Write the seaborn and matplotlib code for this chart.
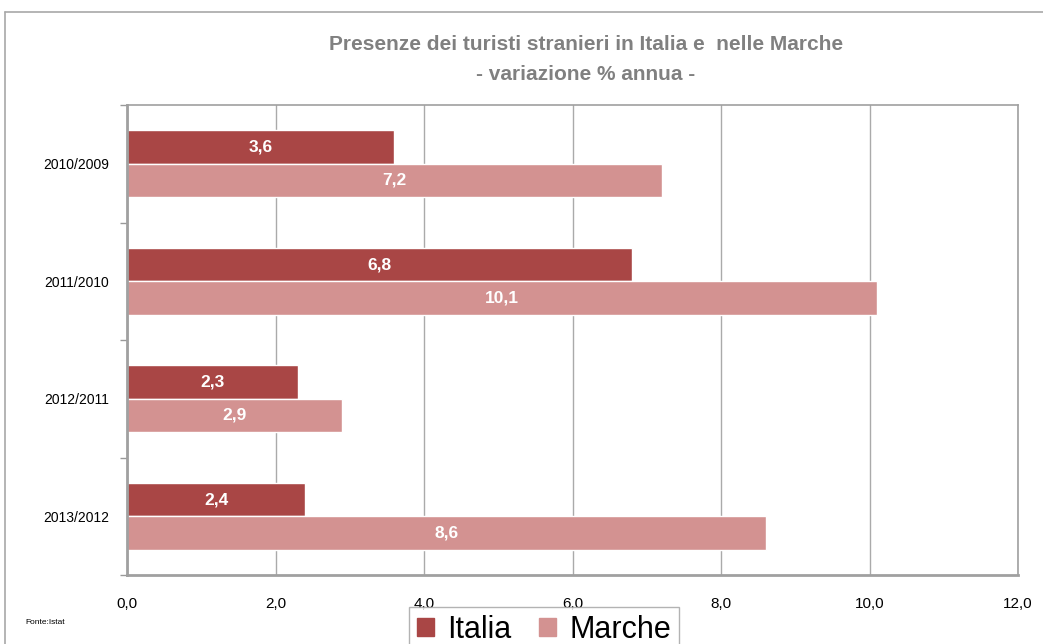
import matplotlib
matplotlib.use("Agg")
import matplotlib.pyplot as plt
import matplotlib.patches as mpatches
import seaborn as sns
import pandas as pd
from matplotlib import font_manager

periods = ["2010/2009", "2011/2010", "2012/2011", "2013/2012"]
italia = [3.6, 6.8, 2.3, 2.4]
marche = [7.2, 10.1, 2.9, 8.6]
series = ["Italia", "Marche"]
xticks = [0, 2, 4, 6, 8, 10, 12]

c_italia = "#A94645"
c_marche = "#D39291"

df = pd.DataFrame({
    "periodo": periods * 2,
    "valore": italia + marche,
    "serie": ["Italia"] * len(periods) + ["Marche"] * len(periods),
})

sns.set_theme(style="white")
avail = {f.name for f in font_manager.fontManager.ttflist}
narrow = "Liberation Sans"
for cand in ["Liberation Sans Narrow", "DejaVu Sans Condensed"]:
    if cand in avail:
        narrow = cand
        break
NF = [narrow, "DejaVu Sans"]
plt.rcParams["font.family"] = ["Liberation Sans", "DejaVu Sans"]

fig = plt.figure(figsize=(10.43, 6.44), dpi=100)
ax = fig.add_axes([127 / 1043, 69 / 644, 891 / 1043, 470 / 644])

sns.barplot(data=df, y="periodo", x="valore", hue="serie", orient="h",
            palette=[c_italia, c_marche], width=0.57, ax=ax, legend=False,
            saturation=1, order=periods, hue_order=series)

for cont in ax.containers:
    labels = [f"{b.get_width():.1f}".replace(".", ",") for b in cont]
    ax.bar_label(cont, labels=labels, label_type="center", color="white",
                 fontsize=12.5, fontweight="bold", family=NF)

ax.set_xlim(0, 12)
ax.set_ylim(3.5, -0.5)
ax.set_xticks(xticks)
ax.set_xticklabels([f"{v:.1f}".replace(".", ",") for v in xticks],
                   family=NF, fontsize=11, color="black")
ax.set_yticks(range(len(periods)))
ax.set_yticklabels(periods, fontsize=10, color="black")
ax.set_yticks([-0.5, 0.5, 1.5, 2.5, 3.5], minor=True)
ax.tick_params(axis="y", which="major", length=0, pad=13)
ax.tick_params(axis="y", which="minor", length=5, color="#999999", width=1, left=True)
ax.tick_params(axis="x", which="major", length=0, pad=16)
ax.set_xlabel("")
ax.set_ylabel("")
ax.grid(axis="x", color="#AAAAAA", linewidth=1)
ax.set_axisbelow(True)
for name, sp in ax.spines.items():
    sp.set_color("#A0A0A0")
    sp.set_linewidth(1.2)
ax.spines["left"].set_linewidth(2)
ax.spines["bottom"].set_linewidth(2)

fig.text(586 / 1043, 1 - 44 / 644, "Presenze dei turisti stranieri in Italia e  nelle Marche",
         ha="center", va="center", fontsize=15, fontweight="bold", color="#808080",
         family=NF)
fig.text(586 / 1043, 1 - 75 / 644, "- variazione % annua -",
         ha="center", va="center", fontsize=15, fontweight="bold", color="#808080",
         family=NF)

fig.text(25 / 1043, 1 - 622 / 644, "Fonte:Istat", ha="left", va="center",
         fontsize=6, color="black", family=NF)

# outer chart border
fig.add_artist(plt.Line2D([5 / 1043, 1.0], [1 - 12 / 644, 1 - 12 / 644],
                          transform=fig.transFigure, color="#A8A8A8", lw=1.2))
fig.add_artist(plt.Line2D([5 / 1043, 5 / 1043], [0, 1 - 12 / 644],
                          transform=fig.transFigure, color="#A8A8A8", lw=1.2))

handles = [mpatches.Patch(color=c_italia, label="Italia"),
           mpatches.Patch(color=c_marche, label="Marche")]
leg = fig.legend(handles=handles, loc="upper center", bbox_to_anchor=(544 / 1043, 1 - 607 / 644),
                 ncol=2, frameon=True, fancybox=False, edgecolor="#A0A0A0",
                 prop={"family": NF, "size": 22},
                 handlelength=0.55, handleheight=0.55, handletextpad=0.45,
                 columnspacing=0.9, borderpad=0.25, borderaxespad=0,
                 labelcolor="black")
leg.get_frame().set_linewidth(1)

fig.savefig("out.png", dpi=100)
